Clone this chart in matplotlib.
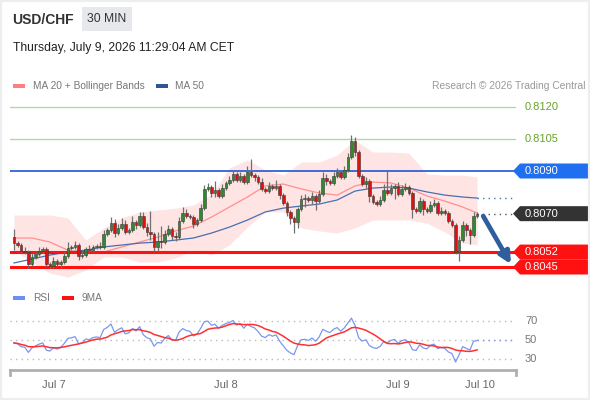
import matplotlib
matplotlib.use('Agg')
import matplotlib.pyplot as plt
import numpy as np
import pandas as pd
from matplotlib.patches import Polygon, Rectangle, FancyArrowPatch

plt.rcParams['font.family'] = ['Liberation Sans', 'DejaVu Sans']

W, H = 590, 400

# 30 min candles, Jul 6 evening .. Jul 9 11:00 CET
first_open = 0.80590
close = [
    0.80562, 0.80553, 0.80525, 0.80520, 0.80464, 0.80497, 0.80511, 0.80525, 0.80534, 0.80464,
    0.80454, 0.80478, 0.80464, 0.80473, 0.80501, 0.80539, 0.80544, 0.80553, 0.80501, 0.80506,
    0.80534, 0.80529, 0.80544, 0.80548, 0.80544, 0.80605, 0.80623, 0.80656, 0.80609, 0.80633,
    0.80651, 0.80614, 0.80623, 0.80661, 0.80647, 0.80689, 0.80637, 0.80614, 0.80605, 0.80544,
    0.80572, 0.80567, 0.80605, 0.80628, 0.80595, 0.80590, 0.80665, 0.80703, 0.80689, 0.80684,
    0.80651, 0.80670, 0.80726, 0.80816, 0.80825, 0.80797, 0.80811, 0.80783, 0.80820, 0.80844,
    0.80858, 0.80886, 0.80858, 0.80877, 0.80848, 0.80895, 0.80881, 0.80872, 0.80848, 0.80816,
    0.80806, 0.80830, 0.80820, 0.80830, 0.80787, 0.80750, 0.80708, 0.80680, 0.80661, 0.80722,
    0.80769, 0.80773, 0.80764, 0.80783, 0.80759, 0.80792, 0.80867, 0.80853, 0.80844, 0.80877,
    0.80895, 0.80872, 0.80905, 0.80966, 0.81041, 0.80989, 0.80877, 0.80839, 0.80853, 0.80783,
    0.80755, 0.80745, 0.80764, 0.80811, 0.80797, 0.80820, 0.80830, 0.80792, 0.80816, 0.80825,
    0.80797, 0.80722, 0.80712, 0.80759, 0.80722, 0.80712, 0.80741, 0.80750, 0.80703, 0.80712,
    0.80703, 0.80665, 0.80647, 0.80520, 0.80576, 0.80647, 0.80623, 0.80600, 0.80689, 0.80698,
]
# wick lengths in pips
upper_wick = [
    4, 1, 1, 2, 1, 2, 1, 2, 1, 1,
    1, 2, 1, 1, 2, 3, 1, 2, 1, 2,
    1, 2, 1, 1, 2, 2, 1, 3, 2, 2,
    3, 2, 1, 3, 1, 2, 2, 2, 10, 1,
    4, 7, 2, 2, 1, 2, 2, 3, 2, 1,
    1, 1, 2, 2, 2, 1, 4, 1, 2, 1,
    2, 2, 1, 2, 1, 3, 6, 1, 1, 2,
    1, 2, 1, 3, 1, 1, 1, 1, 1, 1,
    2, 2, 1, 2, 1, 2, 3, 2, 1, 2,
    2, 1, 2, 2, 3, 2, 1, 1, 2, 1,
    1, 1, 2, 3, 9, 2, 1, 2, 2, 2,
    1, 1, 1, 2, 1, 1, 2, 2, 1, 2,
    1, 1, 1, 1, 2, 2, 1, 1, 2, 1,
]
lower_wick = [
    3, 1, 1, 1, 2, 1, 1, 1, 1, 1,
    1, 1, 1, 2, 1, 1, 1, 1, 2, 1,
    1, 1, 1, 1, 1, 1, 1, 1, 2, 1,
    1, 1, 1, 1, 2, 1, 1, 2, 3, 2,
    2, 3, 1, 1, 2, 2, 1, 1, 1, 1,
    2, 1, 1, 1, 1, 2, 2, 1, 1, 1,
    1, 1, 1, 1, 1, 1, 1, 2, 1, 1,
    1, 1, 1, 1, 2, 1, 2, 3, 5, 3,
    1, 4, 1, 2, 4, 1, 1, 2, 1, 1,
    1, 1, 1, 1, 1, 2, 1, 1, 2, 3,
    1, 1, 1, 1, 1, 1, 5, 1, 1, 1,
    1, 4, 1, 1, 3, 1, 1, 1, 1, 1,
    1, 1, 1, 1, 4, 1, 3, 4, 1, 1,
]

# indicators read every 5 candles
ind_idx = [0, 5, 10, 15, 20, 25, 30, 35, 40, 45, 50, 55, 60, 65, 70,
           75, 80, 85, 90, 95, 100, 105, 110, 115, 120, 125, 129]
ma20 = [0.80586, 0.80586, 0.80567, 0.80529, 0.80515, 0.80520, 0.80544, 0.80567, 0.80590,
        0.80619, 0.80642, 0.80684, 0.80731, 0.80778, 0.80830, 0.80839, 0.80816, 0.80797,
        0.80787, 0.80830, 0.80848, 0.80844, 0.80820, 0.80783, 0.80759, 0.80731, 0.80703]
bb_up = [0.80694, 0.80694, 0.80694, 0.80680, 0.80576, 0.80633, 0.80680, 0.80708, 0.80717,
         0.80726, 0.80741, 0.80790, 0.80914, 0.80952, 0.80905, 0.80881, 0.80942, 0.80942,
         0.80975, 0.81045, 0.80989, 0.80989, 0.80984, 0.80886, 0.80881, 0.80881, 0.80872]
bb_low = [0.80529, 0.80473, 0.80422, 0.80403, 0.80436, 0.80497, 0.80497, 0.80473, 0.80473,
          0.80492, 0.80529, 0.80506, 0.80553, 0.80637, 0.80708, 0.80708, 0.80633, 0.80619,
          0.80609, 0.80633, 0.80670, 0.80670, 0.80670, 0.80656, 0.80614, 0.80562, 0.80553]
ma50 = [0.80469, 0.80487, 0.80506, 0.80520, 0.80529, 0.80544, 0.80553, 0.80562, 0.80567,
        0.80576, 0.80586, 0.80609, 0.80637, 0.80670, 0.80708, 0.80726, 0.80736, 0.80745,
        0.80764, 0.80806, 0.80820, 0.80825, 0.80820, 0.80802, 0.80787, 0.80778, 0.80773]

green_levels = [0.8120, 0.8105]
resistance = 0.8090
last_price = 0.8070
supports = [0.8052, 0.8045]
target = 0.80452

day_pos = [11, 59, 107, 129.8]
day_labels = ['Jul 7', 'Jul 8', 'Jul 9', 'Jul 10']
rsi_levels = [70, 50, 30]
rsi_period = 14
rsi_seed = 1.6e-4  # starting average move for the Wilder smoothing

C_GREEN_TXT = '#6aa329'
C_BLUE = '#2f62d6'
C_RED = '#ff1111'
C_DARK = '#333333'
C_GRAY = '#777777'

fig = plt.figure(figsize=(W / 100, H / 100), dpi=100)
fig.patch.set_facecolor('white')

# main price axes, placed in pixels
x_lo, x_hi = -1.11, 139.83
y_lo, y_hi = 0.80375, 0.812469
ax = fig.add_axes([10 / W, 1 - 283 / H, 506 / W, 186 / H])
ax.set_xlim(x_lo, x_hi)
ax.set_ylim(y_lo, y_hi)
ax.axis('off')


def fig_y(price):
    return (1 - 283 / H) + (price - y_lo) / (y_hi - y_lo) * 186 / H


n = len(close)
idx = np.arange(n)
c = np.array(close)
o = np.array([first_open] + close[:-1])
hi = np.maximum(o, c) + np.array(upper_wick) * 1e-4
lo = np.minimum(o, c) - np.array(lower_wick) * 1e-4

ax.fill_between(ind_idx, bb_low, bb_up, color='#ffdcdc', alpha=0.75, lw=0, zorder=1)
ax.plot(ind_idx, ma20, color='#ff8f8f', lw=0.9, zorder=2)
ax.plot(ind_idx, ma50, color='#4a6fb0', lw=0.9, zorder=2)
ax.plot([ind_idx[-1], x_hi], [ma50[-1]] * 2, color='#4a6fb0', lw=1, ls=(0, (1, 3)), zorder=2)

for lv in green_levels:
    ax.axhline(lv, color='#b5d89f', lw=1, zorder=2)
ax.axhline(resistance, color=C_BLUE, lw=1.3, zorder=2)
for lv in supports:
    ax.axhline(lv, color=C_RED, lw=2.2, zorder=2)
ax.plot([idx[-1], x_hi], [last_price] * 2, color='#555555', lw=1, ls=(0, (1, 3)), zorder=2)

ax.vlines(idx, lo, hi, color='#707070', lw=0.9, zorder=3)
up = c >= o
body_lo = np.minimum(o, c)
body_h = np.maximum(np.abs(c - o), 0.00003)
ax.bar(idx[up], body_h[up], bottom=body_lo[up], width=0.72, color='#2e8a2e',
       edgecolor='#3a3a3a', lw=0.4, zorder=4)
ax.bar(idx[~up], body_h[~up], bottom=body_lo[~up], width=0.72, color='#dd1111',
       edgecolor='#3a3a3a', lw=0.4, zorder=4)

arrow = FancyArrowPatch((130.3, last_price), (138.8, target), arrowstyle='-|>',
                        mutation_scale=17, lw=3.4, color='#2f5e9e', zorder=5, clip_on=False)
ax.add_patch(arrow)

# right side labels
for lv in green_levels:
    fig.text(525 / W, fig_y(lv), f'{lv:.4f}', color=C_GREEN_TXT, fontsize=8, va='center')


def tag(price, color):
    yc = fig_y(price)
    hh = 7.5 / H
    pts = [(513 / W, yc), (520 / W, yc + hh), (588 / W, yc + hh), (588 / W, yc - hh), (520 / W, yc - hh)]
    fig.add_artist(Polygon(pts, closed=True, transform=fig.transFigure, color=color, lw=0))


for lv in supports:
    tag(lv, C_RED)
tag(resistance, '#1f6ff0')
tag(last_price, C_DARK)
for lv in [resistance, last_price] + supports:
    fig.text(525 / W, fig_y(lv), f'{lv:.4f}', color='white', fontsize=8, va='center')

# RSI panel
rsi_lo, rsi_hi = 17.6, 87.8
ax2 = fig.add_axes([10 / W, 1 - 370 / H, 506 / W, 65 / H])
ax2.set_xlim(x_lo, x_hi)
ax2.set_ylim(rsi_lo, rsi_hi)
for s in ['top', 'left', 'right']:
    ax2.spines[s].set_visible(False)
ax2.spines['bottom'].set_color('#b0b0b0')
ax2.spines['bottom'].set_linewidth(2)
ax2.set_yticks([])
ax2.set_xticks(day_pos, day_labels)
ax2.tick_params(axis='x', length=0, pad=7, labelsize=8, labelcolor='#666666')
for xe in [0, 1]:
    ax2.plot([xe, xe], [0, -0.07], transform=ax2.transAxes, color='#b0b0b0', lw=2, clip_on=False)

for lv in rsi_levels:
    ax2.axhline(lv, color='#bbbbbb', lw=1, ls=(0, (1, 3)))
    fig.text(525 / W, (1 - 370 / H) + (lv - rsi_lo) / (rsi_hi - rsi_lo) * 65 / H, str(lv),
             color=C_GRAY, fontsize=8, va='center')

# Wilder RSI on the closes
delta = np.diff(np.array([first_open] + close))
avg_g, avg_l = rsi_seed, rsi_seed
rsi = []
for d in delta:
    avg_g = (avg_g * (rsi_period - 1) + max(d, 0)) / rsi_period
    avg_l = (avg_l * (rsi_period - 1) + max(-d, 0)) / rsi_period
    rsi.append(100 - 100 / (1 + avg_g / avg_l))
rsi = pd.Series(rsi)
rsi_ma = rsi.rolling(9, min_periods=1).mean()
ax2.plot(idx, rsi, color='#7a97ee', lw=0.9)
ax2.plot(idx, rsi_ma, color='#ff3030', lw=1.1)
ax2.plot([idx[-1], x_hi], [rsi.iloc[-1]] * 2, color='#7a97ee', lw=1, ls=(0, (1, 3)))

# header
fig.text(12 / W, 1 - 20 / H, 'USD/CHF', fontsize=10, fontweight='bold', color=C_DARK, va='center')
fig.add_artist(Rectangle((82 / W, 1 - 31 / H), 50 / W, 24 / H, transform=fig.transFigure,
                         color='#e6e8eb', lw=0))
fig.text(107 / W, 1 - 19.5 / H, '30 MIN', fontsize=8.7, color=C_DARK, ha='center', va='center')
fig.text(13 / W, 1 - 48 / H, 'Thursday, July 9, 2026 11:29:04 AM CET', fontsize=8.7,
         color='#222222', va='center')

# legends
fig.add_artist(Rectangle((13 / W, 1 - 88 / H), 12 / W, 4 / H, transform=fig.transFigure,
                         color='#ff8080', lw=0))
fig.text(33 / W, 1 - 86 / H, 'MA 20 + Bollinger Bands', fontsize=7.3, color=C_GRAY, va='center')
fig.add_artist(Rectangle((156 / W, 1 - 88 / H), 12 / W, 4 / H, transform=fig.transFigure,
                         color='#2f5597', lw=0))
fig.text(175 / W, 1 - 86 / H, 'MA 50', fontsize=7.3, color=C_GRAY, va='center')
fig.text(585 / W, 1 - 86 / H, 'Research \u00a9 2026 Trading Central', fontsize=7.4,
         color='#999999', va='center', ha='right')

fig.add_artist(Rectangle((13 / W, 1 - 300 / H), 12 / W, 4 / H, transform=fig.transFigure,
                         color='#6f8ff0', lw=0))
fig.text(33 / W, 1 - 298 / H, 'RSI', fontsize=7.3, color=C_GRAY, va='center')
fig.add_artist(Rectangle((62 / W, 1 - 300 / H), 12 / W, 4 / H, transform=fig.transFigure,
                         color='#ff1111', lw=0))
fig.text(82 / W, 1 - 298 / H, '9MA', fontsize=7.3, color=C_GRAY, va='center')

# light frame
fig.add_artist(Rectangle((0, 0), 1, 1, transform=fig.transFigure, fill=False,
                         edgecolor='#eceef0', lw=3))

fig.savefig('out.png', dpi=100)
